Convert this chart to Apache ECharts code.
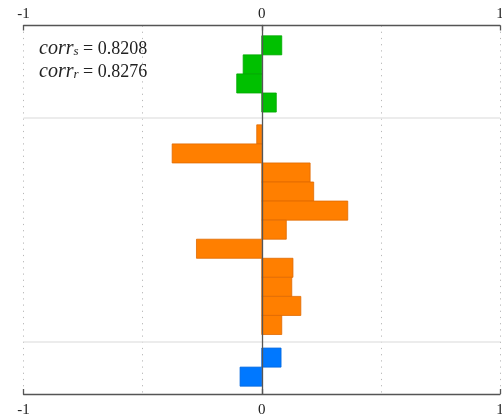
<!DOCTYPE html>
<html>
<head>
<meta charset="utf-8">
<script src="https://cdn.jsdelivr.net/npm/echarts@6/dist/echarts.min.js"></script>
<style>html,body{margin:0;padding:0;background:#fff;}#c{width:502px;height:416px;}</style>
</head>
<body>
<div id="c"></div>
<script>
// ---- data ----
const greenValues  = [0.084, -0.078, -0.105, 0.061];
const orangeValues = [-0.021, -0.376, 0.203, 0.218, 0.361, 0.103, -0.274, 0.131, 0.126, 0.164, 0.084];
const blueValues   = [0.081, -0.091];
// row index where each group begins (rows measured in bar units)
const groupStarts  = [0.54, 5.21, 16.92];
const separators   = [4.85, 16.6];
const rowExtent    = [0, 19.33];
const xTickValues  = [-1, 0, 1];
const corrS = '0.8208';
const corrR = '0.8276';

const chart = echarts.init(document.getElementById('c'), null, {renderer: 'canvas'});

function makeData(vals, start) {
  return vals.map((v, i) => [v, start + i]);
}
function renderer(fill, stroke) {
  return function (params, api) {
    const v = api.value(0), top = api.value(1);
    const p0 = api.coord([0, top]);
    const p1 = api.coord([v, top + 1]);
    return {
      type: 'rect',
      shape: {
        x: Math.min(p0[0], p1[0]),
        y: Math.min(p0[1], p1[1]),
        width: Math.abs(p1[0] - p0[0]),
        height: Math.abs(p1[1] - p0[1])
      },
      style: {fill: fill, stroke: stroke, lineWidth: 0.8}
    };
  };
}

const serif = 'Liberation Serif';
const dotted = {color: '#b8b8b8', width: 1, type: [1.2, 5]};

function xAxisCfg(pos, showGrid, margin) {
  return {
    type: 'value', position: pos, min: xTickValues[0], max: xTickValues[2], interval: 1,
    axisLine: {show: true, onZero: false, lineStyle: {color: '#555', width: 1.3}},
    axisTick: {show: true, inside: true, length: 5, lineStyle: {color: '#555', width: 1.3}},
    axisLabel: {show: true, margin: margin, fontFamily: serif, fontSize: 15, color: '#222',
      formatter: v => (v < 0 ? '-' : '') + Math.abs(v)},
    splitLine: {show: showGrid, lineStyle: dotted},
    minorTick: {show: false, splitNumber: 2},
    minorSplitLine: {show: showGrid, lineStyle: dotted}
  };
}

chart.setOption({
  animation: false,
  backgroundColor: '#fff',
  grid: {left: 23.5, right: 2, top: 25.5, bottom: 22, containLabel: false, outerBoundsMode: 'none'},
  xAxis: [xAxisCfg('bottom', true, 9), xAxisCfg('top', false, 4)],
  yAxis: {
    type: 'value', inverse: true, min: rowExtent[0], max: rowExtent[1], z: 10,
    axisLine: {show: true, onZero: true, lineStyle: {color: '#555', width: 1.3}},
    axisTick: {show: false}, axisLabel: {show: false}, splitLine: {show: false}
  },
  graphic: [{
    type: 'text', left: 39, top: 39,
    style: {
      text: '{i|corr}{s|s}{n| = ' + corrS + '}\n{i|corr}{s|r}{n| = ' + corrR + '}',
      rich: {
        i: {fontFamily: serif, fontStyle: 'italic', fontSize: 20, lineHeight: 23, fill: '#222'},
        s: {fontFamily: serif, fontStyle: 'italic', fontSize: 13, lineHeight: 23, padding: [6, 0, 0, 0], fill: '#222'},
        n: {fontFamily: serif, fontSize: 18, lineHeight: 23, fill: '#222'}
      }
    }
  }],
  series: [
    {type: 'custom', name: 'g', renderItem: renderer('#00c000', '#00a800'), data: makeData(greenValues, groupStarts[0]),
     encode: {x: 0, y: 1},
     markLine: {silent: true, symbol: 'none', label: {show: false},
       lineStyle: {color: '#e6e6e6', width: 1.5, type: 'solid'},
       data: separators.map(s => ({yAxis: s}))}},
    {type: 'custom', name: 'o', renderItem: renderer('#ff7f00', '#e06a00'), data: makeData(orangeValues, groupStarts[1]), encode: {x: 0, y: 1}},
    {type: 'custom', name: 'b', renderItem: renderer('#0078ff', '#0066dd'), data: makeData(blueValues, groupStarts[2]), encode: {x: 0, y: 1}}
  ]
});
</script>
</body>
</html>
